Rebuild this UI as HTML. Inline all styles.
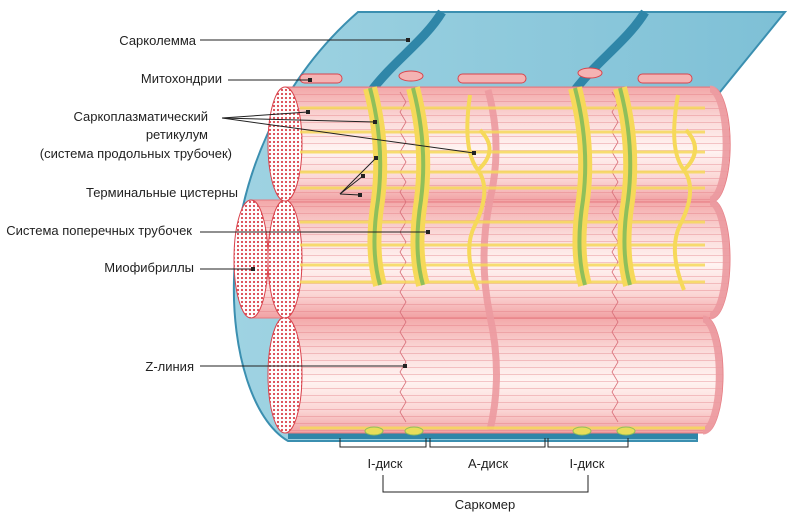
<!DOCTYPE html>
<html><head><meta charset="utf-8"><style>
html,body{margin:0;padding:0;background:#fff;}
svg{display:block;font-family:"Liberation Sans",sans-serif;}
text{font-size:13px;fill:#222;}
</style></head><body>
<svg width="790" height="515" viewBox="0 0 790 515" xmlns="http://www.w3.org/2000/svg">
<defs>
<pattern id="dots" width="4" height="4" patternUnits="userSpaceOnUse">
<rect width="4" height="4" fill="#fff"/><circle cx="2" cy="2" r="1.1" fill="#d9434c"/></pattern>
<linearGradient id="cyl" x1="0" y1="0" x2="0" y2="1">
<stop offset="0" stop-color="#f3a7a8"/><stop offset="0.3" stop-color="#fbdcdb"/>
<stop offset="0.55" stop-color="#fff4f2"/><stop offset="0.8" stop-color="#fbd6d5"/>
<stop offset="1" stop-color="#f1a0a2"/></linearGradient>
<pattern id="lines" width="20" height="7" patternUnits="userSpaceOnUse">
<line x1="0" y1="3.5" x2="20" y2="3.5" stroke="#e0707a" stroke-width="0.6" opacity="0.7"/></pattern>
<linearGradient id="blue" x1="0" y1="0" x2="1" y2="0">
<stop offset="0" stop-color="#9fd3e2"/><stop offset="1" stop-color="#7ec0d6"/></linearGradient>
</defs>

<!-- sarcolemma sheet -->
<path d="M358,12 L785,12 L720,92 L300,92 L300,436 L697,436 L697,441 L288,441 C252,420 232,350 234,280 C236,180 280,80 358,12 Z" fill="url(#blue)" stroke="#3b8fb0" stroke-width="2"/>
<path d="M442,12 C425,40 395,60 372,90" stroke="#2f86a8" stroke-width="9" fill="none"/>
<path d="M645,12 C628,40 598,60 575,90" stroke="#2f86a8" stroke-width="9" fill="none"/>
<rect x="288" y="433" width="410" height="6" fill="#2f86a8"/>

<!-- mitochondria -->
<g fill="#f4b3b3" stroke="#d9434c" stroke-width="1">
<rect x="300" y="74" width="42" height="9" rx="4.5"/>
<ellipse cx="411" cy="76" rx="12" ry="5"/>
<rect x="458" y="74" width="68" height="9" rx="4.5"/>
<ellipse cx="590" cy="73" rx="12" ry="5"/>
<rect x="638" y="74" width="54" height="9" rx="4.5"/>
</g>

<!-- cylinders -->
<g stroke="#e67a80" stroke-width="1">
<path d="M285,317 L705,317 A18,58 0 0 1 705,433 L285,433 Z" fill="url(#cyl)"/>
<path d="M285,317 L705,317 A18,58 0 0 1 705,433 L285,433 Z" fill="url(#lines)" stroke="none"/>
<path d="M250,200 L712,200 A18,59 0 0 1 712,318 L250,318 Z" fill="url(#cyl)"/>
<path d="M250,200 L712,200 A18,59 0 0 1 712,318 L250,318 Z" fill="url(#lines)" stroke="none"/>
<path d="M285,87 L712,87 A18,57 0 0 1 712,202 L285,202 Z" fill="url(#cyl)"/>
<path d="M285,87 L712,87 A18,57 0 0 1 712,202 L285,202 Z" fill="url(#lines)" stroke="none"/>
</g>
<!-- end bands -->
<g fill="none" stroke="#ec9aa0" stroke-width="7" opacity="0.9">
<path d="M710,89 A16,55 0 0 1 710,200"/><path d="M710,202 A16,56 0 0 1 710,316"/><path d="M703,319 A16,55 0 0 1 703,431"/>
<path d="M488,90 Q503,145 490,200 Q478,258 490,316 Q503,375 490,430"/>
</g>
<!-- Z zigzags -->
<g fill="none" stroke="#d9707a" stroke-width="0.8">
<path d="M400,92 l6,10 l-6,10 l6,10 l-6,10 l6,10 l-6,10 l6,10 l-6,10 l6,10 l-6,10 l6,10 l-6,10 l6,10 l-6,10 l6,10 l-6,10 l6,10 l-6,10 l6,10 l-6,10 l6,10 l-6,10 l6,10 l-6,10 l6,10 l-6,10 l6,10 l-6,10 l6,10 l-6,10 l6,10 l-6,10 l6,10"/>
<path d="M612,92 l6,10 l-6,10 l6,10 l-6,10 l6,10 l-6,10 l6,10 l-6,10 l6,10 l-6,10 l6,10 l-6,10 l6,10 l-6,10 l6,10 l-6,10 l6,10 l-6,10 l6,10 l-6,10 l6,10 l-6,10 l6,10 l-6,10 l6,10 l-6,10 l6,10 l-6,10 l6,10 l-6,10 l6,10 l-6,10 l6,10"/>
</g>
<!-- left faces -->
<g stroke="#d9434c" stroke-width="1" fill="url(#dots)">
<ellipse cx="285" cy="375" rx="17" ry="58"/>
<ellipse cx="251" cy="259" rx="17" ry="59"/>
<ellipse cx="285" cy="259" rx="17" ry="59"/>
<ellipse cx="285" cy="144" rx="17" ry="57"/>
</g>
<!-- yellow horizontal SR -->
<g stroke="#f6d95a" stroke-width="3" opacity="0.85">
<line x1="300" y1="108" x2="705" y2="108"/><line x1="300" y1="132" x2="705" y2="132"/>
<line x1="300" y1="152" x2="705" y2="152"/><line x1="300" y1="172" x2="705" y2="172"/>
<line x1="300" y1="188" x2="705" y2="188"/><line x1="300" y1="222" x2="705" y2="222"/>
<line x1="300" y1="245" x2="705" y2="245"/><line x1="300" y1="265" x2="705" y2="265"/>
<line x1="300" y1="282" x2="705" y2="282"/><line x1="300" y1="428" x2="705" y2="428"/>
</g>
<!-- SR loops in A band -->
<g fill="none" stroke="#f6d95a" stroke-width="4">
<path d="M470,95 Q462,150 478,170 Q492,190 475,225 Q462,250 478,290"/>
<path d="M480,130 Q500,150 478,170"/>
<path d="M678,95 Q668,150 684,170 Q698,190 680,225 Q668,250 684,290"/>
<path d="M686,130 Q705,150 684,170"/>
</g>
<!-- T-tubule/terminal cisterns -->
<g fill="none">
<g stroke="#f6d95a" stroke-width="14">
<path d="M370,88 Q385,145 378,200 Q370,250 380,285"/>
<path d="M413,88 Q428,145 421,200 Q413,250 423,285"/>
<path d="M575,88 Q590,145 583,200 Q575,250 585,285"/>
<path d="M620,88 Q635,145 628,200 Q620,250 630,285"/>
</g>
<g stroke="#8fbf5a" stroke-width="4">
<path d="M370,88 Q385,145 378,200 Q370,250 380,285"/>
<path d="M413,88 Q428,145 421,200 Q413,250 423,285"/>
<path d="M575,88 Q590,145 583,200 Q575,250 585,285"/>
<path d="M620,88 Q635,145 628,200 Q620,250 630,285"/>
</g></g>
<g fill="#e8dd5a" stroke="#8fbf5a" stroke-width="1">
<ellipse cx="374" cy="431" rx="9" ry="4"/><ellipse cx="414" cy="431" rx="9" ry="4"/>
<ellipse cx="582" cy="431" rx="9" ry="4"/><ellipse cx="626" cy="431" rx="9" ry="4"/>
</g>

<!-- leader lines -->
<g stroke="#222" stroke-width="1" fill="none">
<line x1="200" y1="40" x2="408" y2="40"/>
<line x1="228" y1="80" x2="310" y2="80"/>
<line x1="222" y1="118" x2="308" y2="112"/>
<line x1="222" y1="118" x2="375" y2="122"/>
<line x1="222" y1="118" x2="474" y2="153"/>
<polyline points="340,194 376,158"/><polyline points="340,194 363,176"/><polyline points="340,194 360,195"/>
<line x1="200" y1="232" x2="428" y2="232"/>
<line x1="200" y1="269" x2="253" y2="269"/>
<line x1="200" y1="366" x2="405" y2="366"/>
<polyline points="340,438 340,447 426,447 426,438"/>
<polyline points="430,438 430,447 545,447 545,438"/>
<polyline points="548,438 548,447 628,447 628,438"/>
<polyline points="383,475 383,492 588,492 588,475"/>
</g>
<g fill="#222">
<rect x="406" y="38" width="4" height="4"/><rect x="308" y="78" width="4" height="4"/>
<rect x="306" y="110" width="4" height="4"/><rect x="373" y="120" width="4" height="4"/>
<rect x="472" y="151" width="4" height="4"/><rect x="374" y="156" width="4" height="4"/>
<rect x="361" y="174" width="4" height="4"/><rect x="358" y="193" width="4" height="4"/>
<rect x="426" y="230" width="4" height="4"/><rect x="251" y="267" width="4" height="4"/>
<rect x="403" y="364" width="4" height="4"/>
</g>

<!-- labels -->
<g text-anchor="end">
<text x="196" y="45">Сарколемма</text>
<text x="222" y="83">Митохондрии</text>
<text x="208" y="121">Саркоплазматический</text>
<text x="208" y="139">ретикулум</text>
<text x="232" y="158">(система продольных трубочек)</text>
<text x="238" y="197">Терминальные цистерны</text>
<text x="192" y="235">Система поперечных трубочек</text>
<text x="194" y="272">Миофибриллы</text>
<text x="194" y="371">Z-линия</text>
</g>
<g text-anchor="middle">
<text x="385" y="468">I-диск</text>
<text x="488" y="468">А-диск</text>
<text x="587" y="468">I-диск</text>
<text x="485" y="509">Саркомер</text>
</g>
</svg>
</body></html>
